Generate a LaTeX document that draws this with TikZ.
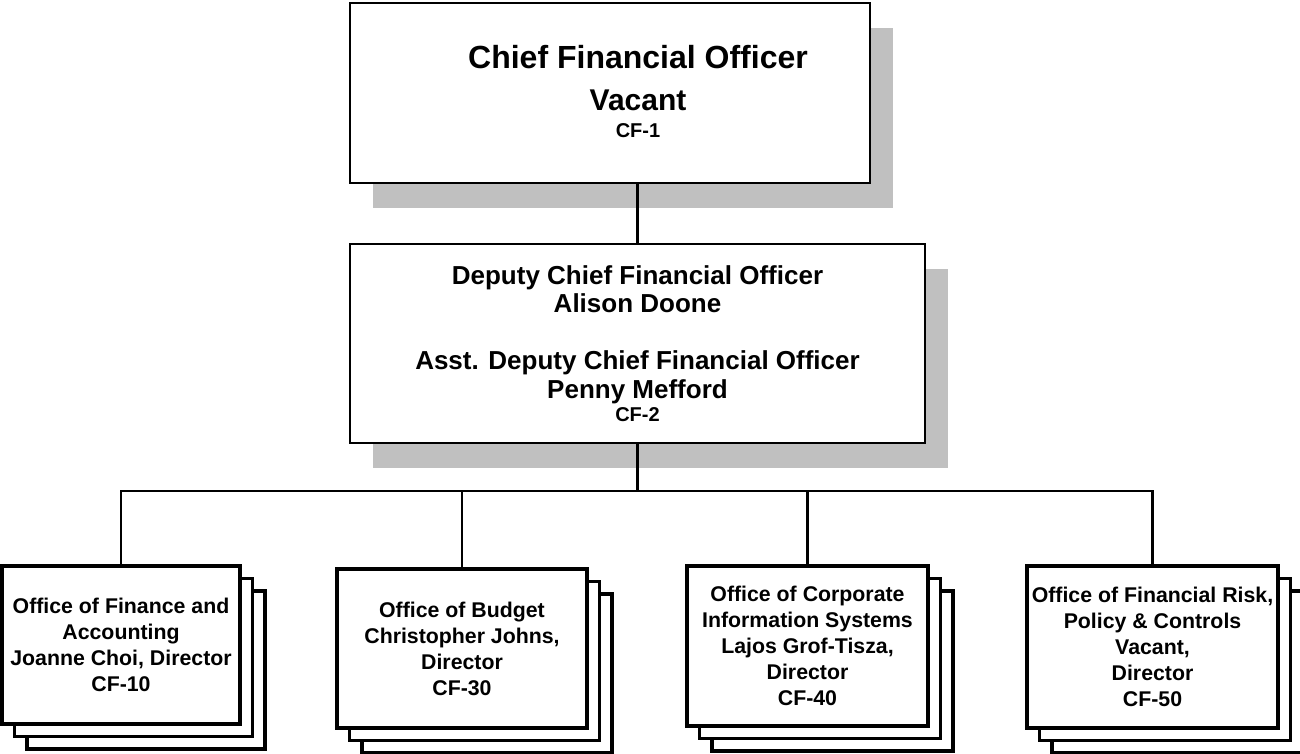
\documentclass[tikz,border=0pt]{standalone}
\usepackage{fontspec}
\setmainfont{Liberation Sans}
\usetikzlibrary{shadows,backgrounds}

\definecolor{shadowgray}{RGB}{192,192,192}

\tikzstyle{head} = [draw, fill=white, line width=2.5pt, align=center, inner sep=0pt,
  drop shadow={shadow xshift=23pt, shadow yshift=-25pt, fill=shadowgray, opacity=1, draw=none}]
\tikzstyle{office} = [draw, fill=white, line width=3.2pt, align=center, inner sep=0pt, outer sep=0pt,
  font=\bfseries\fontsize{21.3}{26}\selectfont]
\tikzstyle{sheet} = [draw, fill=white, line width=3.2pt]
\tikzstyle{link} = [line width=2.5pt]

\begin{document}
\begin{tikzpicture}[x=1pt,y=-1pt]
  \useasboundingbox (0,0) rectangle (1300,753);

  \node (cfo) at (610,93) [head, minimum width=520pt, minimum height=180pt] {};
  \node (cfotext) at ([xshift=28pt,yshift=2pt]cfo.center) [align=center,
    font=\bfseries\fontsize{32}{42}\selectfont]
    {Chief Financial Officer\\{\fontsize{30}{42}\selectfont Vacant}\\[-15pt]{\fontsize{20}{24}\selectfont CF-1}};
  \node (dcfo) at (637.5,343.5) [head, minimum width=575pt, minimum height=199pt,
    font=\bfseries\fontsize{26}{28.5}\selectfont]
    {Deputy Chief Financial Officer\\Alison Doone\\[28.5pt]Asst. Deputy Chief Financial Officer\\Penny Mefford\\[-5pt]{\fontsize{20}{23}\selectfont CF-2}};

  \node (ofa) at (121,645) [office, minimum width=238pt, minimum height=158pt]
    {Office of Finance and\\Accounting\\Joanne Choi, Director\\CF-10};
  \node (ob) at (462,648.5) [office, minimum width=250pt, minimum height=159pt]
    {Office of Budget\\Christopher Johns,\\Director\\CF-30};
  \node (ocis) at (807.5,646) [office, minimum width=241pt, minimum height=160pt]
    {Office of Corporate\\Information Systems\\Lajos Grof-Tisza,\\Director\\CF-40};
  \node (ofrpc) at (1152.5,647) [office, minimum width=251pt, minimum height=162pt]
    {Office of Financial Risk,\\Policy \& Controls\\Vacant,\\Director\\CF-50};

  % stacked sheets behind each office
  \begin{scope}[on background layer]
    \foreach \n in {ofa,ob,ocis,ofrpc}
      \foreach \s in {25,12.5}
        \draw [sheet] ([shift={(\s pt,-\s pt)}]\n.north west) rectangle ([shift={(\s pt,-\s pt)}]\n.south east);
  \end{scope}

  \coordinate (bus) at (637.5,491);

  \draw [link] (dcfo.north) -- (dcfo.north |- cfo.south);
  \draw [link] (dcfo.south) -- (bus);
  \draw [link] (ofa.north) |- (bus) -| (ofrpc.north);
  \draw [link] (ob.north) -- (ob.north |- bus);
  \draw [link] (ocis.north) -- (ocis.north |- bus);
\end{tikzpicture}
\end{document}
